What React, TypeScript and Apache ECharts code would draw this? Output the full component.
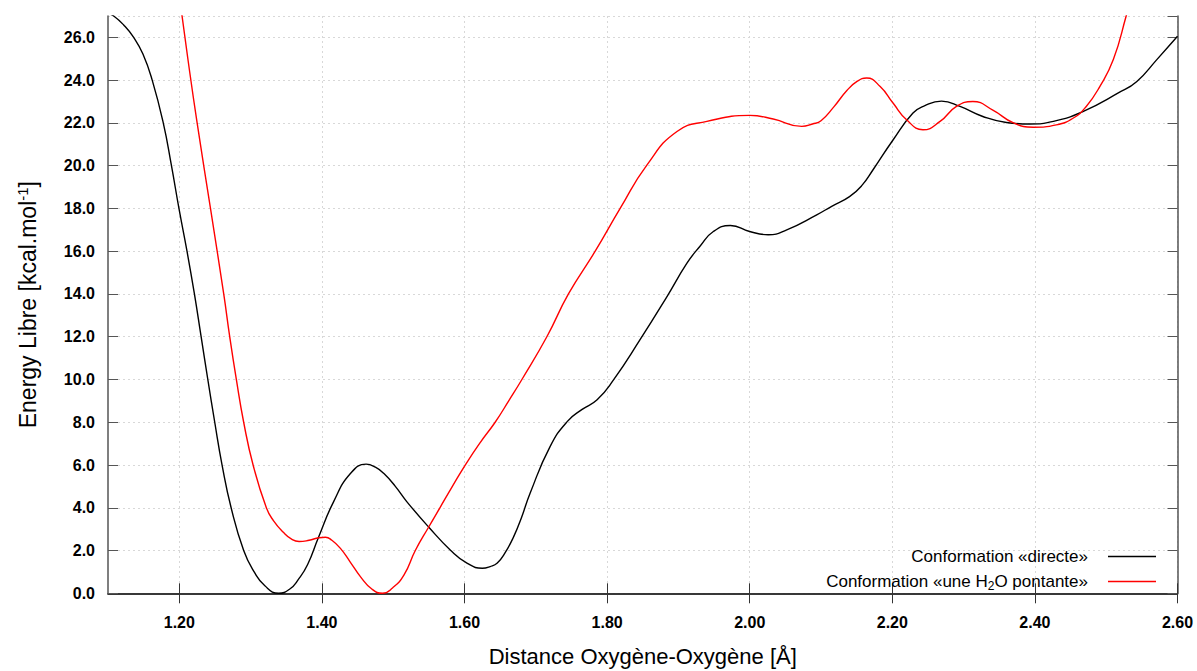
import React, { useEffect, useRef } from "react";
import * as echarts from "echarts";

const xTicks = [1.2, 1.4, 1.6, 1.8, 2.0, 2.2, 2.4, 2.6];

const directeData: number[][] = [
  [1.100, 27.12], [1.108, 27.0], [1.122, 26.58], [1.136, 26.0], [1.149, 25.22],
  [1.162, 24.0], [1.1775, 22.0], [1.189, 20.0], [1.1995, 18.0], [1.2108, 16.0],
  [1.2212, 14.0], [1.2306, 12.0], [1.240, 10.0], [1.2497, 8.0], [1.260, 6.0],
  [1.2727, 4.0], [1.2903, 2.0], [1.305, 1.0], [1.320, 0.35], [1.3394, 0.0],
  [1.355, 0.2], [1.367, 0.65], [1.380, 1.35], [1.395, 2.6], [1.4165, 4.29],
  [1.440, 5.6], [1.462, 6.04], [1.475, 5.9], [1.487, 5.6],
  [1.503, 5.0], [1.519, 4.29], [1.550, 3.09], [1.580, 2.03], [1.604, 1.40],
  [1.625, 1.17], [1.636, 1.25], [1.646, 1.42], [1.657, 1.9], [1.669, 2.65],
  [1.680, 3.55], [1.692, 4.68], [1.720, 6.86],
  [1.744, 8.03], [1.765, 8.6], [1.786, 9.05], [1.809, 9.98], [1.846, 11.85],
  [1.884, 13.88], [1.912, 15.44], [1.930, 16.22], [1.949, 16.92], [1.973, 17.2],
  [2.000, 16.92], [2.026, 16.77], [2.052, 17.0], [2.094, 17.7], [2.115, 18.1],
  [2.140, 18.55], [2.158, 19.1], [2.173, 19.81], [2.201, 21.2], [2.229, 22.46],
  [2.245, 22.8], [2.269, 23.02],
  [2.295, 22.77], [2.327, 22.3], [2.360, 22.02], [2.393, 21.95], [2.426, 22.07],
  [2.468, 22.54], [2.517, 23.4], [2.543, 23.94], [2.571, 24.96], [2.600, 26.05],
];

const pontanteData: number[][] = [
  [1.200, 27.95], [1.212, 25.0], [1.225, 22.0], [1.244, 17.94], [1.2623, 14.0],
  [1.2707, 12.0], [1.280, 10.0], [1.2903, 8.0], [1.3035, 6.0], [1.3221, 4.0],
  [1.332, 3.4], [1.346, 2.85], [1.358, 2.52], [1.368, 2.42], [1.382, 2.48],
  [1.396, 2.6], [1.405, 2.62], [1.414, 2.48],
  [1.426, 2.1], [1.440, 1.45], [1.454, 0.78], [1.470, 0.2],
  [1.485, 0.0], [1.499, 0.25], [1.515, 0.85], [1.531, 2.0], [1.5496, 3.09],
  [1.5655, 4.0], [1.583, 5.0], [1.601, 6.0], [1.622, 7.05], [1.643, 8.0],
  [1.662, 9.0], [1.6805, 10.0], [1.7155, 12.0], [1.7458, 14.0],
  [1.7833, 16.0], [1.8183, 18.0], [1.856, 20.04], [1.898, 21.6], [1.940, 22.07],
  [2.000, 22.35], [2.033, 22.18], [2.073, 21.84], [2.088, 21.95], [2.100, 22.1],
  [2.118, 22.75], [2.136, 23.5], [2.151, 23.95],
  [2.164, 24.1], [2.183, 23.7], [2.201, 22.93], [2.220, 22.15], [2.243, 21.68],
  [2.267, 22.07], [2.290, 22.77], [2.313, 23.0], [2.341, 22.6], [2.370, 22.0],
  [2.398, 21.8], [2.430, 21.91], [2.454, 22.23], [2.472, 22.77], [2.491, 23.7],
  [2.510, 24.96], [2.528, 27.0], [2.535, 27.9],
];

const seriesNames = ["Conformation «directe»", "Conformation «une H2O pontante»"];

const FONT = "Liberation Sans, Arial, sans-serif";

export default function App() {
  const ref = useRef<HTMLDivElement>(null);
  useEffect(() => {
    if (!ref.current) return;
    const chart = echarts.init(ref.current, null, { renderer: "svg" });
    const splitLine = {
      show: true,
      lineStyle: { color: "#d8d8d8", type: [2, 3] as any, width: 1 },
    };
    chart.setOption({
      animation: false,
      backgroundColor: "#fff",
      grid: {
        left: 108,
        right: 19.5,
        top: 16,
        bottom: 77.7,
        show: false,
        containLabel: false,
        outerBoundsMode: "none",
      },
      legend: {
        right: 36,
        top: 543,
        orient: "vertical",
        align: "right",
        itemWidth: 48,
        itemHeight: 14,
        itemGap: 8,
        icon: "path://M0,7L48,7L48,8.4L0,8.4Z",
        data: seriesNames,
        formatter: (name: string) =>
          name.includes("H2O") ? "Conformation «une H{sub|2}O pontante»" : name,
        textStyle: {
          fontFamily: FONT,
          fontSize: 17,
          color: "#000",
          padding: [0, 15, 0, 0],
          rich: {
            sub: { fontSize: 12, fontFamily: FONT, color: "#000", padding: [9, 0, 0, 0] },
          },
        },
      },
      xAxis: [
        {
          type: "value",
          min: 1.1,
          max: 2.6,
          position: "bottom",
          name: "Distance Oxygène-Oxygène [Å]",
          nameLocation: "middle",
          nameGap: 52,
          nameTextStyle: { fontFamily: FONT, fontSize: 22, color: "#000" },
          axisLine: { show: true, lineStyle: { color: "#555", width: 1.5 } },
          axisTick: { show: true, inside: true, length: 10, customValues: xTicks, lineStyle: { color: "#333" } },
          axisLabel: {
            customValues: xTicks,
            formatter: (v: number) => v.toFixed(2),
            fontFamily: FONT,
            fontSize: 16,
            fontWeight: "bold",
            color: "#000",
            margin: 21,
          },
          splitLine,
        },
        {
          type: "value",
          min: 1.1,
          max: 2.6,
          position: "top",
          axisLine: { show: true, lineStyle: { color: "#222", width: 1.5 } },
          axisTick: { show: true, inside: true, length: 10, customValues: xTicks, lineStyle: { color: "#333" } },
          axisLabel: { show: false, customValues: xTicks },
          splitLine: { show: false },
        },
      ],
      yAxis: [
        {
          type: "value",
          min: 0,
          max: 27,
          interval: 2,
          position: "left",
          name: "Energy Libre [kcal.mol{sup|-1}]",
          nameLocation: "middle",
          nameGap: 68,
          nameTextStyle: {
            fontFamily: FONT,
            fontSize: 23,
            color: "#000",
            rich: { sup: { fontSize: 15, fontFamily: FONT, color: "#000", padding: [0, 0, 10, 0] } },
          },
          axisLine: { show: true, lineStyle: { color: "#555", width: 1.5 } },
          axisTick: { show: true, inside: true, length: 10, lineStyle: { color: "#555" } },
          axisLabel: {
            showMaxLabel: false,
            formatter: (v: number) => (v > 26.5 ? "" : v.toFixed(1)),
            fontFamily: FONT,
            fontSize: 16,
            fontWeight: "bold",
            color: "#000",
            margin: 13,
          },
          splitLine,
        },
        {
          type: "value",
          min: 0,
          max: 27,
          interval: 2,
          position: "right",
          axisLine: { show: true, lineStyle: { color: "#555", width: 1.5 } },
          axisTick: { show: true, inside: true, length: 10, lineStyle: { color: "#555" } },
          axisLabel: { show: false },
          splitLine: { show: false },
        },
      ],
      series: [
        {
          name: seriesNames[0],
          type: "line",
          data: directeData,
          smooth: 0.5,
          showSymbol: false,
          symbol: "none",
          clip: true,
          lineStyle: { color: "#000", width: 1.4 },
          itemStyle: { color: "#000" },
        },
        {
          name: seriesNames[1],
          type: "line",
          data: pontanteData,
          smooth: 0.5,
          showSymbol: false,
          symbol: "none",
          clip: true,
          lineStyle: { color: "#ff0000", width: 1.4 },
          itemStyle: { color: "#ff0000" },
        },
      ],
    });
    return () => chart.dispose();
  }, []);
  return (
    <div
      ref={ref}
      style={{ position: "absolute", left: 0, top: 0, width: 1197, height: 671 }}
    />
  );
}
